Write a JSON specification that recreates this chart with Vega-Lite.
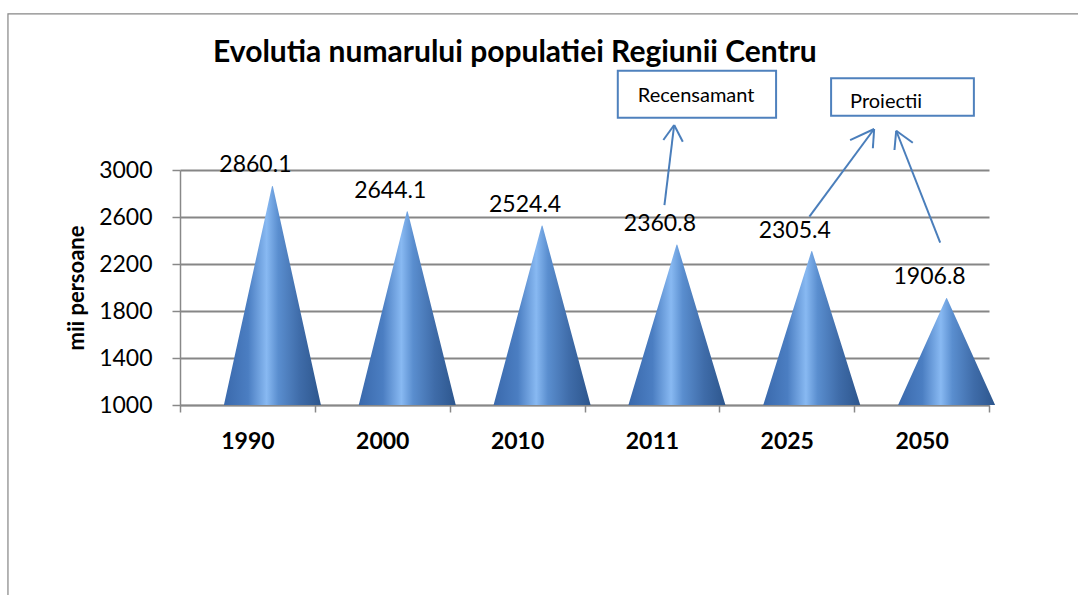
{
  "$schema": "https://vega.github.io/schema/vega-lite/v6.json",
  "width": 860,
  "height": 235,
  "autosize": {"type": "none"},
  "padding": {"left": 180, "top": 170, "right": 38, "bottom": 190},
  "background": "white",
  "config": {
    "view": {"stroke": null},
    "font": "Lato"
  },
  "datasets": {
    "pop": [
      {"year": "1990", "value": 2860.1, "base": 1000},
      {"year": "2000", "value": 2644.1, "base": 1000},
      {"year": "2010", "value": 2524.4, "base": 1000},
      {"year": "2011", "value": 2360.8, "base": 1000},
      {"year": "2025", "value": 2305.4, "base": 1000},
      {"year": "2050", "value": 1906.8, "base": 1000}
    ],
    "segments": [
      {"ax": 3.593, "ay": 2702, "ax2": 3.665, "ay2": 3383},
      {"ax": 3.665, "ay": 3383, "ax2": 3.585, "ay2": 3255},
      {"ax": 3.665, "ay": 3383, "ax2": 3.729, "ay2": 3241},
      {"ax": 4.668, "ay": 2603, "ax2": 5.148, "ay2": 3349},
      {"ax": 5.148, "ay": 3349, "ax2": 4.970, "ay2": 3255},
      {"ax": 5.148, "ay": 3349, "ax2": 5.139, "ay2": 3185},
      {"ax": 5.638, "ay": 2381, "ax2": 5.312, "ay2": 3334},
      {"ax": 5.312, "ay": 3334, "ax2": 5.299, "ay2": 3170},
      {"ax": 5.312, "ay": 3334, "ax2": 5.435, "ay2": 3232}
    ],
    "boxes": [
      {"ax": 3.247, "ax2": 4.421, "ay": 3445, "ay2": 3845},
      {"ax": 4.829, "ax2": 5.888, "ay": 3462, "ay2": 3780}
    ],
    "boxText": [
      {"ax": 3.828, "ay": 3581, "label": "Recensamant"},
      {"ax": 5.237, "ay": 3525, "label": "Proiectii"}
    ],
    "titleText": [
      {"ax": 2.484, "ay": 3919, "label": "Evolutia numarului populatiei Regiunii Centru"}
    ],
    "frame": [
      {"ax": -1.276, "ax2": 6.9, "ay": -900, "ay2": 4329}
    ]
  },
  "resolve": {"scale": {"x": "independent"}},
  "layer": [
    {
      "data": {"name": "pop"},
      "transform": [{"fold": ["base", "value"], "as": ["part", "v"]}],
      "mark": {
        "type": "trail",
        "clip": true,
        "xOffset": 25,
        "fill": {
          "gradient": "linear",
          "x1": 0, "y1": 0, "x2": 1, "y2": 0,
          "stops": [
            {"offset": 0, "color": "#3a69ac"},
            {"offset": 0.25, "color": "#4b7ec2"},
            {"offset": 0.44, "color": "#88b9f2"},
            {"offset": 0.56, "color": "#5a8ecf"},
            {"offset": 0.78, "color": "#3f6ca9"},
            {"offset": 1, "color": "#2d568d"}
          ]
        }
      },
      "encoding": {
        "x": {
          "field": "year", "type": "nominal", "sort": null,
          "scale": {"range": [0, 809], "paddingInner": 0, "paddingOuter": 0},
          "axis": {
            "title": null,
            "labelAngle": 0,
            "labelFont": "Lato",
            "labelFontSize": 23,
            "labelFontWeight": "bold",
            "labelColor": "#000000",
            "labelPadding": 18,
            "tickBand": "extent",
            "tickSize": 7,
            "tickColor": "#888888",
            "tickWidth": 1.5,
            "domainColor": "#888888",
            "domainWidth": 1.5,
            "grid": false
          }
        },
        "y": {
          "field": "v", "type": "quantitative",
          "scale": {"domain": [1000, 3000], "nice": false, "zero": false},
          "axis": {
            "title": "mii persoane",
            "titleFont": "Lato",
            "titleFontSize": 22,
            "titleFontWeight": "bold",
            "titleColor": "#000000",
            "titlePadding": 10,
            "values": [1000, 1400, 1800, 2200, 2600, 3000],
            "format": "d",
            "labelFont": "Lato",
            "labelFontSize": 23,
            "labelColor": "#000000",
            "labelPadding": 20,
            "tickSize": 8,
            "tickColor": "#888888",
            "tickWidth": 1.5,
            "domainColor": "#888888",
            "domainWidth": 1.5,
            "grid": true,
            "gridColor": "#868686",
            "gridWidth": 2
          }
        },
        "size": {
          "field": "part", "type": "ordinal",
          "scale": {"type": "ordinal", "domain": ["base", "value"], "range": [97, 0]},
          "legend": null
        },
        "detail": {"field": "year"}
      }
    },
    {
      "data": {"name": "frame"},
      "mark": {"type": "rect", "fill": null, "stroke": "#868686", "strokeWidth": 1.2},
      "encoding": {
        "x": {"field": "ax", "type": "quantitative", "axis": null, "scale": {"domain": [0, 6.3784], "nice": false, "zero": false}},
        "x2": {"field": "ax2"},
        "y": {"field": "ay", "type": "quantitative", "scale": {"domain": [1000, 3000], "nice": false, "zero": false}},
        "y2": {"field": "ay2"}
      }
    },
    {
      "data": {"name": "pop"},
      "mark": {"type": "text", "font": "Lato", "fontSize": 23, "color": "#000000", "dy": -21, "xOffset": 8, "baseline": "middle"},
      "encoding": {
        "x": {"field": "year", "type": "nominal", "sort": null, "axis": null, "scale": {"range": [0, 809], "paddingInner": 0, "paddingOuter": 0}},
        "y": {"field": "value", "type": "quantitative", "scale": {"domain": [1000, 3000], "nice": false, "zero": false}},
        "text": {"field": "value", "type": "quantitative", "format": ".1f"}
      }
    },
    {
      "data": {"name": "boxes"},
      "mark": {"type": "rect", "fill": "white", "stroke": "#4f81bd", "strokeWidth": 2},
      "encoding": {
        "x": {"field": "ax", "type": "quantitative", "axis": null, "scale": {"domain": [0, 6.3784], "nice": false, "zero": false}},
        "x2": {"field": "ax2"},
        "y": {"field": "ay", "type": "quantitative", "scale": {"domain": [1000, 3000], "nice": false, "zero": false}},
        "y2": {"field": "ay2"}
      }
    },
    {
      "data": {"name": "segments"},
      "mark": {"type": "rule", "stroke": "#4a7ebb", "strokeWidth": 2},
      "encoding": {
        "x": {"field": "ax", "type": "quantitative", "axis": null, "scale": {"domain": [0, 6.3784], "nice": false, "zero": false}},
        "x2": {"field": "ax2"},
        "y": {"field": "ay", "type": "quantitative", "scale": {"domain": [1000, 3000], "nice": false, "zero": false}},
        "y2": {"field": "ay2"}
      }
    },
    {
      "data": {"name": "boxText"},
      "mark": {"type": "text", "font": "Lato", "fontSize": 20, "color": "#000000", "baseline": "alphabetic", "align": "center"},
      "encoding": {
        "x": {"field": "ax", "type": "quantitative", "axis": null, "scale": {"domain": [0, 6.3784], "nice": false, "zero": false}},
        "y": {"field": "ay", "type": "quantitative", "scale": {"domain": [1000, 3000], "nice": false, "zero": false}},
        "text": {"field": "label"}
      }
    },
    {
      "data": {"name": "titleText"},
      "mark": {"type": "text", "font": "Lato", "fontSize": 30, "fontWeight": "bold", "color": "#000000", "baseline": "alphabetic", "align": "center"},
      "encoding": {
        "x": {"field": "ax", "type": "quantitative", "axis": null, "scale": {"domain": [0, 6.3784], "nice": false, "zero": false}},
        "y": {"field": "ay", "type": "quantitative", "scale": {"domain": [1000, 3000], "nice": false, "zero": false}},
        "text": {"field": "label"}
      }
    }
  ]
}
